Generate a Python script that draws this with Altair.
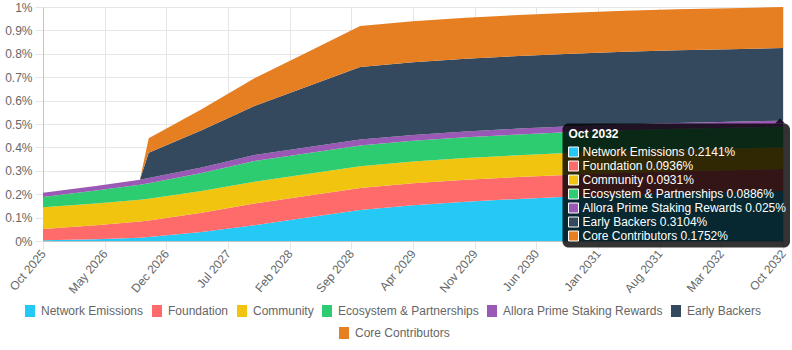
import json
import pandas as pd
import altair as alt

# ---------------- data ----------------
dates = ["2025-10", "2026-04", "2026-09", "2026-10", "2027-04", "2027-10",
         "2028-04", "2028-10", "2029-04", "2029-10", "2030-04", "2030-10",
         "2031-04", "2031-10", "2032-04", "2032-10"]

series_names = ["Network Emissions", "Foundation", "Community",
                "Ecosystem & Partnerships", "Allora Prime Staking Rewards",
                "Early Backers", "Core Contributors"]
series_colors = ["#25C9F5", "#FF6B6B", "#F1C40F", "#2ECC71", "#9B59B6",
                 "#34495E", "#E67E22"]

network_emissions = [0.003, 0.008, 0.014, 0.017, 0.038, 0.067, 0.100, 0.133,
                     0.153, 0.168, 0.180, 0.190, 0.198, 0.204, 0.209, 0.2141]
foundation = [0.048, 0.0594, 0.0689, 0.0708, 0.0822, 0.0936, 0.0936, 0.0936,
              0.0936, 0.0936, 0.0936, 0.0936, 0.0936, 0.0936, 0.0936, 0.0936]
community = [0.0931, 0.0931, 0.0931, 0.0931, 0.0931, 0.0931, 0.0931, 0.0931,
             0.0931, 0.0931, 0.0931, 0.0931, 0.0931, 0.0931, 0.0931, 0.0931]
ecosystem = [0.044, 0.0552, 0.0644, 0.0663, 0.0774, 0.0886, 0.0886, 0.0886,
             0.0886, 0.0886, 0.0886, 0.0886, 0.0886, 0.0886, 0.0886, 0.0886]
staking = [0.018, 0.0198, 0.0212, 0.0215, 0.0233, 0.025, 0.025, 0.025,
           0.025, 0.025, 0.025, 0.025, 0.025, 0.025, 0.025, 0.025]
early_backers = [0.0, 0.0, 0.0, 0.108, 0.1588, 0.2092, 0.2598, 0.3104,
                 0.3104, 0.3104, 0.3104, 0.3104, 0.3104, 0.3104, 0.3104, 0.3104]
core_contributors = [0.0, 0.0, 0.0, 0.062, 0.0903, 0.1186, 0.1469, 0.1752,
                     0.1752, 0.1752, 0.1752, 0.1752, 0.1752, 0.1752, 0.1752, 0.1752]

tick_labels = ["Oct 2025", "May 2026", "Dec 2026", "Jul 2027", "Feb 2028",
               "Sep 2028", "Apr 2029", "Nov 2029", "Jun 2030", "Jan 2031",
               "Aug 2031", "Mar 2032", "Oct 2032"]
y_ticks = [0, 0.1, 0.2, 0.3, 0.4, 0.5, 0.6, 0.7, 0.8, 0.9, 1]

tooltip_title = "Oct 2032"

# ---------------- table ----------------
all_series = [network_emissions, foundation, community, ecosystem, staking,
              early_backers, core_contributors]


def month_index(d):
    y, m = d.split("-")
    return (int(y) - 2025) * 12 + (int(m) - 10)


rows = []
for idx, (name, vals) in enumerate(zip(series_names, all_series)):
    for d, v in zip(dates, vals):
        rows.append({"m": month_index(d), "v": v, "series": name, "idx": idx})
df = pd.DataFrame(rows)

tick_months = [month_index("2025-10") + 7 * i for i in range(len(tick_labels))]

FONT = "Liberation Sans, Arial, Helvetica, sans-serif"
GRID = "#e6e6e6"
AXIS = "#c4c4c4"
LABEL = "#666666"
RECT_PATH = "M-1,-1.2H1V1.2H-1Z"

label_expr = "{}[round(datum.value / 7)]".format(json.dumps(tick_labels))

areas = alt.Chart(df).mark_area(interpolate="linear").encode(
    x=alt.X("m:Q",
            scale=alt.Scale(domain=[0, 84], nice=False, zero=False),
            axis=alt.Axis(values=tick_months, labelExpr=label_expr,
                          labelAngle=-50, title=None, grid=True,
                          gridColor=GRID, tickColor=GRID, tickSize=8,
                          domainColor=AXIS, labelFontSize=12,
                          labelColor=LABEL, labelPadding=2, labelFont=FONT,
                          labelOverlap=False)),
    y=alt.Y("v:Q", stack="zero",
            scale=alt.Scale(domain=[0, 1], nice=False),
            axis=alt.Axis(values=y_ticks,
                          labelExpr="format(datum.value, '.1~f') + '%'",
                          title=None, grid=True, gridColor=GRID,
                          tickColor=GRID, tickSize=8, domainColor=AXIS,
                          labelFontSize=12, labelColor=LABEL,
                          labelPadding=3, labelFont=FONT,
                          labelOverlap=False)),
    color=alt.Color("series:N",
                    scale=alt.Scale(domain=series_names, range=series_colors),
                    legend=alt.Legend(values=series_names[:6], orient="none",
                                      legendX=-19, legendY=298,
                                      direction="horizontal", title=None,
                                      symbolType=RECT_PATH, symbolSize=100,
                                      symbolStrokeWidth=0, labelFontSize=12,
                                      labelColor=LABEL, labelFont=FONT,
                                      labelOffset=5, columnPadding=7,
                                      padding=0, symbolOpacity=1)),
    order=alt.Order("idx:Q", sort="ascending"),
)

# invisible mark that only carries the centred second legend row
legend2 = alt.Chart(df[df["series"] == series_names[6]]).mark_square(
    opacity=0, filled=True
).encode(
    x=alt.value(0),
    y=alt.value(0),
    color=alt.Color("series:N",
                    scale=alt.Scale(domain=[series_names[6]],
                                    range=[series_colors[6]]),
                    legend=alt.Legend(orient="none", legendX=295, legendY=320,
                                      direction="horizontal", title=None,
                                      symbolType=RECT_PATH, symbolSize=100,
                                      symbolStrokeWidth=0, labelFontSize=12,
                                      labelColor=LABEL, labelFont=FONT,
                                      labelOffset=5, padding=0,
                                      symbolOpacity=1)),
)

# ---------------- tooltip overlay (hover box at Oct 2032) ----------------
one = pd.DataFrame({"k": [0]})
box_left, box_right, box_top, box_bottom = 519.5, 747, 116.5, 240.5

tip_layers = [
    alt.Chart(one).mark_rect(color="black", opacity=0.8, cornerRadius=6).encode(
        x=alt.value(box_left), x2=alt.value(box_right),
        y=alt.value(box_top), y2=alt.value(box_bottom)),
    alt.Chart(one).mark_point(shape="M-1,0L0,-1L1,0Z", filled=True,
                              color="black", opacity=0.8, size=100,
                              strokeWidth=0).encode(
        x=alt.value(737), y=alt.value(box_top)),
    alt.Chart(one).mark_text(text=tooltip_title, color="white", fontSize=12,
                             fontWeight="bold", align="left",
                             baseline="middle", font=FONT).encode(
        x=alt.value(box_left + 6), y=alt.value(126.5)),
]
for i, (name, color, vals) in enumerate(zip(series_names, series_colors, all_series)):
    cy = 145 + 14 * i
    tip_layers.append(
        alt.Chart(one).mark_rect(color=color, stroke="white", strokeWidth=1).encode(
            x=alt.value(box_left + 6), x2=alt.value(box_left + 16),
            y=alt.value(cy - 5), y2=alt.value(cy + 5)))
    tip_layers.append(
        alt.Chart(one).mark_text(text=f"{name} {vals[-1]:g}%", color="white",
                                 fontSize=12, align="left", baseline="middle",
                                 font=FONT).encode(
            x=alt.value(box_left + 20), y=alt.value(cy)))

chart = alt.layer(areas, legend2, *tip_layers).resolve_scale(
    color="independent"
).properties(
    width=740, height=234,
    padding={"left": 43, "top": 7, "right": 9, "bottom": 109},
    autosize=alt.AutoSizeParams(type="none"),
).configure_view(stroke=None).configure(font=FONT)

chart.save("out.html", embed_options={"renderer": "svg", "actions": False})
